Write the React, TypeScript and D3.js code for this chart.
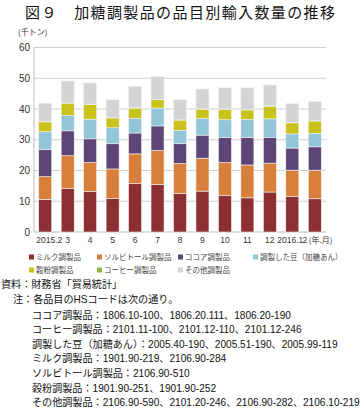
import React, { useEffect } from "react";
import * as d3 from "d3";

const categories = ["2015.2", "3", "4", "5", "6", "7", "8", "9", "10", "11", "12", "2016.1", "2"];
const unitLabel = "(年.月)";
const seriesNames = ["ミルク調製品", "ソルビトール調製品", "ココア調製品", "調製した豆（加糖あん）", "穀粉調製品", "コーヒー調製品", "その他調製品"];
const milk = [10.6, 14.1, 13.1, 10.9, 15.7, 15.5, 12.6, 13.3, 11.8, 11.1, 13.0, 11.5, 10.8];
const sorbitol = [7.4, 10.7, 9.5, 9.6, 9.7, 11.0, 9.7, 10.7, 10.8, 10.7, 9.4, 8.6, 9.3];
const cocoa = [8.9, 8.1, 7.7, 8.2, 6.8, 8.0, 6.4, 7.5, 8.1, 9.0, 8.4, 7.2, 7.6];
const bean = [5.7, 5.0, 6.4, 5.2, 4.8, 5.8, 4.4, 5.5, 5.8, 5.8, 6.0, 4.6, 4.4];
const grain = [3.2, 4.0, 4.8, 3.2, 3.3, 2.7, 3.3, 2.9, 3.4, 3.1, 4.1, 3.6, 4.0];
const coffee = [0.1, 0.1, 0.1, 0.1, 0.1, 0.1, 0.1, 0.1, 0.1, 0.1, 0.1, 0.1, 0.1];
const other = [6.0, 7.1, 6.9, 5.8, 7.0, 7.5, 6.6, 6.5, 6.9, 7.1, 6.8, 6.2, 6.2];
const yTicks = [0, 10, 20, 30, 40, 50, 60];
const colors = ["#8b2f33", "#d8803b", "#5d4677", "#92c5d7", "#c8c21a", "#8db53f", "#d4d4d4"];
const noteLines = [
  "ココア調製品：1806.10-100、1806.20.111、1806.20-190",
  "コーヒー調製品：2101.11-100、2101.12-110、2101.12-246",
  "調製した豆（加糖あん）：2005.40-190、2005.51-190、2005.99-119",
  "ミルク調製品：1901.90-219、2106.90-284",
  "ソルビトール調製品：2106.90-510",
  "穀粉調製品：1901.90-251、1901.90-252",
  "その他調製品：2106.90-590、2101.20-246、2106.90-282、2106.10-219",
];

const FONT = "'Liberation Sans', Arial, 'Noto Sans CJK JP', sans-serif";
const JP = "'Noto Sans CJK JP', sans-serif";

export default function App() {
  useEffect(() => {
    document.body.style.margin = "0";
  }, []);

  const W = 360, H = 410;
  const left = 34, right = 326, top = 47.5, bottom = 232;
  const series = [milk, sorbitol, cocoa, bean, grain, coffee, other];
  const rows = categories.map((c, i) => {
    const o: any = { cat: c };
    seriesNames.forEach((s, j) => (o[s] = series[j][i]));
    return o;
  });
  const stacked = d3.stack().keys(seriesNames)(rows);
  const x = d3.scaleBand().domain(categories).range([left, right]).paddingInner(0.42).paddingOuter(0.21);
  const y = d3.scaleLinear().domain([0, 60]).range([bottom, top]);

  const legendRows = [
    [0, 1, 2, 3],
    [4, 5, 6],
  ];
  const legendX = [29, 97, 178, 253];
  const n = categories.length;
  const cx = (i: number) => (x(categories[i]) as number) + x.bandwidth() / 2;
  const labelShift = (i: number) => (i === 0 ? 4 : i === n - 2 ? -2 : i === n - 1 ? -10 : 0);

  return (
    <svg width={W} height={H} style={{ display: "block", background: "#fff" }} fontFamily={FONT}>
      <text x={25} y={18} fontSize={15} fill="#111" textLength={310} lengthAdjust="spacing" fontFamily={JP}>
        図９　加糖調製品の品目別輸入数量の推移
      </text>
      <text x={18} y={35} fontSize={8} fill="#333" fontFamily={JP}>(千トン)</text>
      {yTicks.map((t) => (
        <g key={t}>
          {t > 0 && <line x1={left} x2={right} y1={y(t)} y2={y(t)} stroke="#cfcfcf" strokeWidth={1} />}
          <text x={30} y={y(t) + 3.5} fontSize={10} textAnchor="end" fill="#333">{t}</text>
        </g>
      ))}
      <line x1={left} x2={left} y1={top} y2={bottom} stroke="#bdbdbd" strokeWidth={1} />
      <line x1={left} x2={right} y1={bottom} y2={bottom} stroke="#bdbdbd" strokeWidth={1} />
      {stacked.map((s, j) => (
        <g key={s.key} fill={colors[j]}>
          {s.map((d: any, i: number) => (
            <rect
              key={i}
              x={x(categories[i])}
              y={y(d[1])}
              width={x.bandwidth()}
              height={Math.max(0, y(d[0]) - y(d[1]))}
              stroke="#f2f2f2"
              strokeWidth={0.6}
            />
          ))}
        </g>
      ))}
      {categories.map((c, i) => (
        <text
          key={c}
          x={cx(i) + labelShift(i)}
          y={242.5}
          fontSize={8.5}
          textAnchor="middle"
          fill="#333"
        >
          {c}
        </text>
      ))}
      <text x={cx(n - 1) - 6} y={242.5} fontSize={8} fill="#333" fontFamily={JP}>{unitLabel}</text>
      {legendRows.map((r, ri) =>
        r.map((k, ci) => (
          <g key={k} transform={`translate(${legendX[ci]},${257 + ri * 13})`}>
            <rect x={0} y={-2.5} width={5} height={5} fill={colors[k]} />
            <text x={7} y={2.8} fontSize={7.5} fill="#444" fontFamily={JP}>{seriesNames[k]}</text>
          </g>
        ))
      )}
      <text x={1} y={288} fontSize={10.1} fill="#111">資料：財務省「貿易統計」</text>
      <text x={13} y={303.3} fontSize={10.1} fill="#111">注：各品目のHSコードは次の通り。</text>
      {noteLines.map((l, i) => (
        <text key={i} x={32} y={318.5 + i * 14.6} fontSize={10.1} fill="#111">{l}</text>
      ))}
    </svg>
  );
}
